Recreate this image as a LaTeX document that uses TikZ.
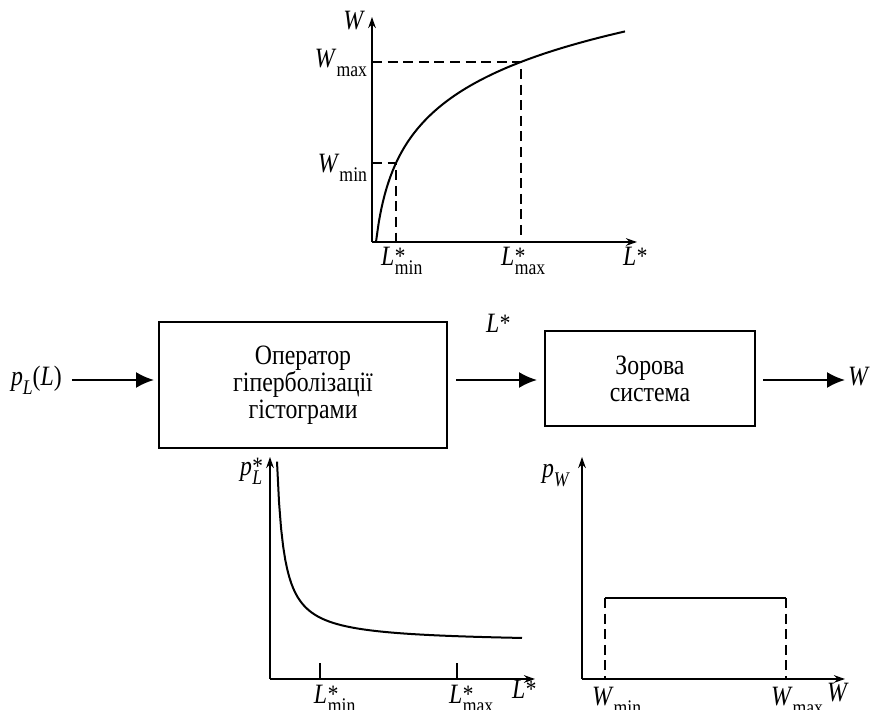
\documentclass[tikz,border=0pt]{standalone}
\usepackage{fontspec}
\setmainfont{Liberation Serif}[FakeStretch=0.85]
\usetikzlibrary{arrows.meta}
\newcommand{\myscr}{\fontsize{10.4}{11}\selectfont}
\newcommand{\mystar}{\fontsize{12.5}{13}\selectfont *}
\newcommand{\mysub}[2]{\textit{#1}\raisebox{-0.3em}{\myscr #2}}
\newcommand{\mysup}[1]{\textit{#1}\kern0.3pt\raisebox{0.05em}{\mystar}}
\newcommand{\mysubsup}[2]{\textit{#1}\kern0.3pt\makebox[0pt][l]{\raisebox{0.05em}{\mystar}}\raisebox{-0.3em}{\myscr #2}}
\begin{document}
\begin{tikzpicture}[x=0.5pt,y=-0.5pt,
  font=\fontsize{14}{13.4}\selectfont,
  line width=1pt,
  axis/.style={line width=1pt,-{Stealth[length=5.5pt,width=3.8pt]}},
  flow/.style={line width=1pt,-{Latex[length=9pt,width=8pt]}},
  dsh/.style={line width=1pt,dash pattern=on 5pt off 2.8pt},
  blk/.style={draw,line width=1pt,align=center,inner sep=2pt},
  lab/.style={inner sep=0pt}]
\useasboundingbox (0,0) rectangle (875,710);

% ---------- top plot ----------
\coordinate (O1) at (372,242);
\coordinate (y1) at (372,17);
\coordinate (x1) at (637,242);
\draw[axis] (O1) -- (y1);
\draw[axis] (O1) -- (x1);
\draw[line width=1pt] plot[domain=0:249,samples=90,smooth] ({376+\x},{242-58.5*ln(1+\x/7)});
\coordinate (pmax) at (521,62);
\coordinate (pmin) at (396,163);
\draw[dsh] (O1 |- pmax) -- (pmax) -- (pmax |- O1);
\draw[dsh] (O1 |- pmin) -- (pmin) -- (pmin |- O1);
\node[lab,anchor=base east] (tW) at (366,30) {\textit{W}};
\node[lab,anchor=base east] (tWmax) at (368,68) {\mysub{W}{max}};
\node[lab,anchor=base east] (tWmin) at (368,173) {\mysub{W}{min}};
\node[lab,anchor=base west] (tLmin) at (380,266) {\mysubsup{L}{min}};
\node[lab,anchor=base west] (tLmax) at (500,266) {\mysubsup{L}{max}};
\node[lab,anchor=base west] (tL) at (622,266) {\mysup{L}};

% ---------- block diagram ----------
\coordinate (ay) at (0,380);
\node[blk,minimum width=144pt,minimum height=63pt] (op) at (303,385)
  {Оператор\\гіперболізації\\гістограми};
\node[blk,minimum width=105pt,minimum height=47.5pt] (zs) at (650,378.5)
  {Зорова\\система};
\node[lab,anchor=base west] (pin) at (10,386) {\mysub{p}{\textit{L}}(\textit{L})};
\node[lab,anchor=base west] (lmid) at (485,333) {\mysup{L}};
\node[lab,anchor=base west] (wout) at (847,386) {\textit{W}};
\draw[flow] ([xshift=4.5pt]pin.east |- ay) -- ([xshift=-2pt]op.west |- ay);
\draw[flow] ([xshift=4pt]op.east |- ay) -- ([xshift=-3.5pt]zs.west |- ay);
\draw[flow] ([xshift=3.5pt]zs.east |- ay) -- ([xshift=-1pt]wout.west |- ay);

% ---------- bottom left plot ----------
\coordinate (O2) at (270,679);
\coordinate (y2) at (270,457);
\coordinate (x2) at (535,679);
\draw[axis] (O2) -- (y2);
\draw[axis] (O2) -- (x2);
\draw[line width=1pt] plot[domain=277:522,samples=120] ({\x},{643-1270/(\x-270)});
\coordinate (t1) at (320,679);
\coordinate (t2) at (457,679);
\draw (t1) -- ++(0,-16);
\draw (t2) -- ++(0,-16);
\node[lab,anchor=base west] (bpL) at (239,476) {\mysubsup{p}{\textit{L}}};
\node[lab,anchor=base west] (bLmin) at (313,704) {\mysubsup{L}{min}};
\node[lab,anchor=base west] (bLmax) at (448,704) {\mysubsup{L}{max}};
\node[lab,anchor=base west] (bL) at (511,699) {\mysup{L}};

% ---------- bottom right plot ----------
\coordinate (O3) at (582,679);
\coordinate (y3) at (582,457);
\coordinate (x3) at (845,679);
\draw[axis] (O3) -- (y3);
\draw[axis] (O3) -- (x3);
\coordinate (r1) at (605,598);
\coordinate (r2) at (786,598);
\draw[dsh] (r1) -- (r1 |- O3);
\draw[dsh] (r2) -- (r2 |- O3);
\draw (r1) -- (r2);
\node[lab,anchor=base west] (bpW) at (541,478) {\mysub{p}{\textit{W}}};
\node[lab,anchor=base west] (bWmin) at (591,706) {\mysub{W}{min}};
\node[lab,anchor=base west] (bWmax) at (770,706) {\mysub{W}{max}};
\node[lab,anchor=base west] (bW) at (826,702) {\textit{W}};
\end{tikzpicture}
\end{document}
